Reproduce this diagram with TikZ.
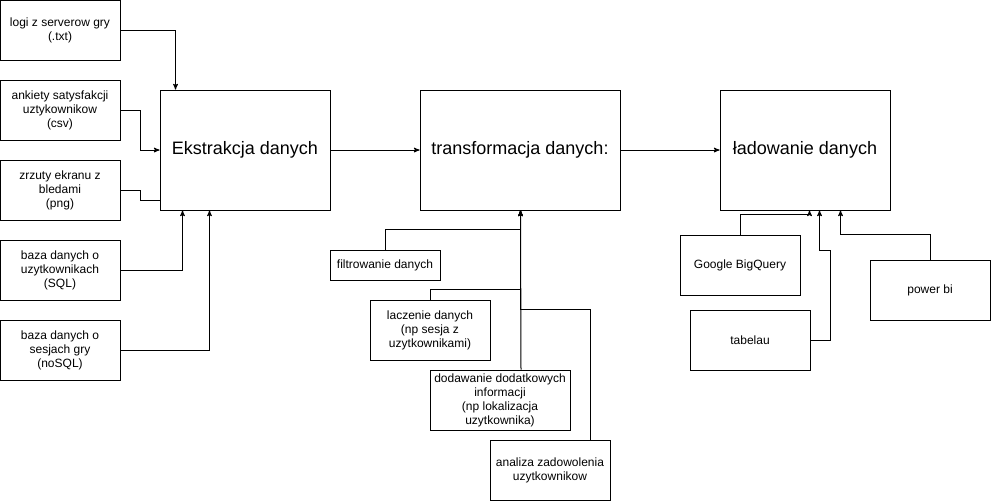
\documentclass[tikz,border=0pt]{standalone}
\usepackage{fontspec}
\setmainfont{Liberation Sans}
\usepackage{tikz}
\usetikzlibrary{arrows}

\begin{document}
\begin{tikzpicture}[x=1pt,y=-1pt]
      \tikzset{srcbox/.style={draw,
          line width=1pt,
          minimum width=#1,
          minimum height=60pt,
          inner sep=1pt,
          align=center,
          font=\fontsize{12}{14}\selectfont},
        srcbox/.default=120pt,
        stagebox/.style={draw,
          line width=1pt,
          minimum width=#1,
          minimum height=120pt,
          font=\fontsize{18}{22}\selectfont},
        link/.style={line width=1pt},
        arr/.style={line width=1pt,-stealth'}
      }
      \useasboundingbox (0,0) rectangle (991,501);
      % sources
      \node [srcbox] (logi) at (60,30) {logi z serverow gry\\(.txt)};
      \node [srcbox] (ankiety) at (60,110) {ankiety satysfakcji\\uztykownikow\\(csv)};
      \node [srcbox] (zrzuty) at (60,190) {zrzuty ekranu z\\bledami\\(png)};
      \node [srcbox] (bazau) at (60,270) {baza danych o\\uzytkownikach\\(SQL)};
      \node [srcbox] (bazas) at (60,350) {baza danych o\\sesjach gry\\(noSQL)};
      % stages
      \node [stagebox=170pt] (ekstr) at (245,150) {Ekstrakcja danych};
      \node [stagebox=200pt] (transf) at (520,150) {transformacja danych:};
      \node [stagebox=170pt] (ladow) at (805,150) {ładowanie danych};
      % transformation steps
      \node [srcbox=110pt,minimum height=30pt] (filtr) at (385,265) {filtrowanie danych};
      \node [srcbox] (lacz) at (430,330) {laczenie danych\\(np sesja z\\uzytkownikami)};
      \node [srcbox=140pt] (dodaw) at (500,400) {dodawanie dodatkowych\\informacji\\(np lokalizacja\\uzytkownika)};
      \node [srcbox] (analiza) at (550,470) {analiza zadowolenia\\uzytkownikow};
      % tools
      \node [srcbox] (gbq) at (740,265) {Google BigQuery};
      \node [srcbox] (tab) at (750,340) {tabelau};
      \node [srcbox] (pbi) at (930,290) {power bi};
      \coordinate (T) at ([xshift=101pt]transf.south west);
      % connectors
      \draw [arr] (logi.east) -| ([xshift=16pt]ekstr.north west);
      \draw [arr] (ankiety.east) -- ++(20,0) |- (ekstr.west);
      \draw [link] (zrzuty.east) -- ++(20,0) |- ([yshift=10pt]ekstr.south west);
      \draw [arr] (bazau.east) -| ([xshift=23pt]ekstr.south west);
      \draw [arr] (bazas.east) -| ([xshift=50pt]ekstr.south west);
      \draw [arr] (ekstr.east) -- (transf.west);
      \draw [arr] (transf.east) -- (ladow.west);
      \draw [arr] (filtr.north) -- ++(0,-20) -| (T);
      \draw [arr] (lacz.north) -- ++(0,-10) -| (T);
      \draw [arr] ([xshift=21pt]dodaw.north) -- (T);
      \draw [arr] ([xshift=40pt]analiza.north) -- ++(0,-130) -| (T);
      \draw [arr] (gbq.north) -- ++(0,-20) -| ([xshift=90pt]ladow.south west);
      \draw [arr] (tab.east) -- ++(20,0) -- ++(0,-90) -| ([xshift=100pt]ladow.south west);
      \draw [arr] (pbi.north) -- ++(0,-25) -| ([xshift=121pt]ladow.south west);
    \end{tikzpicture}
\end{document}
